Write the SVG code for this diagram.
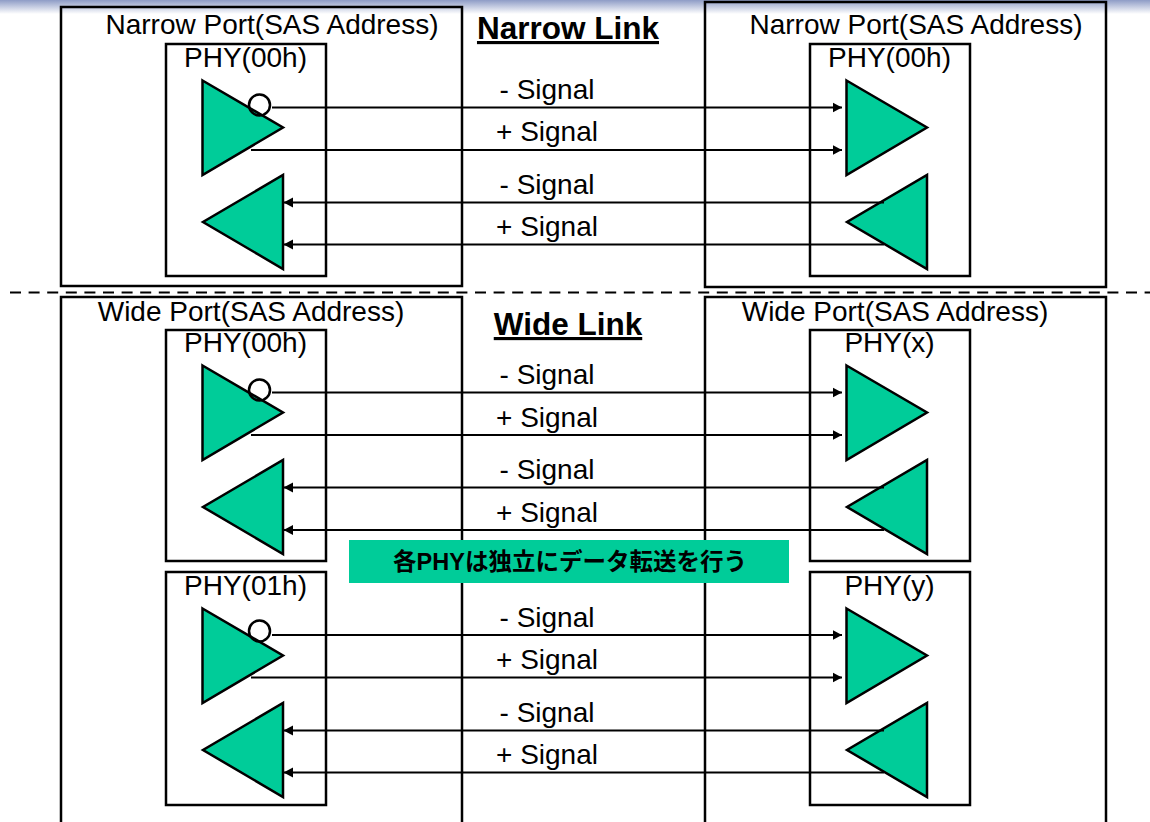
<svg xmlns="http://www.w3.org/2000/svg" width="1150" height="822" viewBox="0 0 1150 822">
<style>
.b{fill:none;stroke:#000;stroke-width:2.500}
.t{fill:#00cc99;stroke:#000;stroke-width:2.500}
.c{fill:#fff;fill-opacity:0;stroke:#000;stroke-width:2.500}
.w{stroke:#000;stroke-width:2.200;fill:none}
.a{marker-end:url(#ah)}
text{font-family:"Liberation Sans",Arial,sans-serif;fill:#000}
.p{font-size:28px;text-anchor:middle}
.s{font-size:28px;text-anchor:middle}
.h{font-size:31.500px;font-weight:bold;text-decoration:underline;text-anchor:middle}
</style>
<defs>
<marker id="ah" markerUnits="userSpaceOnUse" markerWidth="11" markerHeight="12" refX="9.500" refY="5.500" orient="auto"><path d="M0 0.500L9.500 5.500L0 10.500Z" fill="#000"/></marker>
<linearGradient id="top" x1="0" y1="0" x2="0" y2="1"><stop offset="0" stop-color="#8e9cc6"/><stop offset="1" stop-color="#ffffff"/></linearGradient>
</defs>
<rect width="1150" height="822" fill="#fff"/>
<rect id="top-band" width="1150" height="14" fill="url(#top)"/>

<g id="narrow-left-port"><rect class="b" x="61" y="7" width="401" height="279"/><text class="p" x="272" y="34">Narrow Port(SAS Address)</text></g>
<g id="narrow-right-port"><rect class="b" x="705" y="2" width="401" height="285"/><text class="p" x="916" y="34">Narrow Port(SAS Address)</text></g>
<g id="wide-left-port"><rect class="b" x="61" y="297" width="401" height="535"/><text class="p" x="251" y="321">Wide Port(SAS Address)</text></g>
<g id="wide-right-port"><rect class="b" x="705" y="297" width="401" height="535"/><text class="p" x="895" y="321">Wide Port(SAS Address)</text></g>

<g id="narrow-left-phy"><rect class="b" x="166" y="44" width="160" height="232"/><text class="p" x="245.500" y="67">PHY(00h)</text>
<path class="t" d="M202.500 80.500L283 127.500L202.500 175Z"/><path class="t" d="M283 175L283 269L203 222Z"/><circle class="c" cx="259.500" cy="105" r="10.500"/></g>
<g id="narrow-right-phy"><rect class="b" x="810" y="44" width="160" height="232"/><text class="p" x="889.500" y="67">PHY(00h)</text>
<path class="t" d="M846.500 80.500L927 127.500L846.500 175Z"/><path class="t" d="M927 175L927 269L847 222Z"/></g>

<g id="wide-left-phy0"><rect class="b" x="166" y="330" width="160" height="231"/><text class="p" x="245.500" y="352">PHY(00h)</text>
<path class="t" d="M202.500 365.500L283 412.500L202.500 460Z"/><path class="t" d="M283 460L283 554L203 507Z"/><circle class="c" cx="259.500" cy="390" r="10.500"/></g>
<g id="wide-right-phy-x"><rect class="b" x="810" y="330" width="160" height="231"/><text class="p" x="889.500" y="352">PHY(x)</text>
<path class="t" d="M846.500 365.500L927 412.500L846.500 460Z"/><path class="t" d="M927 460L927 554L847 507Z"/></g>

<g id="wide-left-phy1"><rect class="b" x="166" y="572" width="160" height="233"/><text class="p" x="245.500" y="595">PHY(01h)</text>
<path class="t" d="M202.500 608.500L283 655.500L202.500 703Z"/><path class="t" d="M283 703L283 797L203 750Z"/><circle class="c" cx="259.500" cy="631" r="10.500"/></g>
<g id="wide-right-phy-y"><rect class="b" x="810" y="572" width="160" height="233"/><text class="p" x="889.500" y="595">PHY(y)</text>
<path class="t" d="M846.500 608.500L927 655.500L846.500 703Z"/><path class="t" d="M927 703L927 797L847 750Z"/></g>

<g id="connectors">
<path class="w a" d="M272 107.500H842"/><path class="w a" d="M251 150H842"/><path class="w a" d="M884 202.500H283.500"/><path class="w a" d="M884 244.500H283.500"/>
<path class="w a" d="M272 392.500H842"/><path class="w a" d="M251 435H842"/><path class="w a" d="M884 487.500H283.500"/><path class="w a" d="M884 530H283.500"/>
<path class="w a" d="M272 635H842"/><path class="w a" d="M251 677.500H842"/><path class="w a" d="M884 730.500H283.500"/><path class="w a" d="M884 772.500H283.500"/>
<path id="divider" d="M10 292.500H1150" stroke="#000" stroke-width="2.200" stroke-dasharray="11 7.600" fill="none"/>
</g>

<g id="labels">
<text class="h" x="568" y="39">Narrow Link</text>
<text class="h" x="568" y="335">Wide Link</text>
<text class="s" x="547" y="99">- Signal</text><text class="s" x="547" y="141">+ Signal</text><text class="s" x="547" y="194">- Signal</text><text class="s" x="547" y="236">+ Signal</text>
<text class="s" x="547" y="384">- Signal</text><text class="s" x="547" y="427">+ Signal</text><text class="s" x="547" y="479">- Signal</text><text class="s" x="547" y="522">+ Signal</text>
<text class="s" x="547" y="627">- Signal</text><text class="s" x="547" y="669">+ Signal</text><text class="s" x="547" y="722">- Signal</text><text class="s" x="547" y="764">+ Signal</text>
</g>

<g id="note"><rect x="349" y="540" width="440" height="43" fill="#00cc99"/>
<text x="570" y="570" text-anchor="middle" font-size="23.500" font-weight="bold" style="font-family:'Liberation Sans','Noto Sans CJK JP',sans-serif">各PHYは独立にデータ転送を行う</text></g>
</svg>
